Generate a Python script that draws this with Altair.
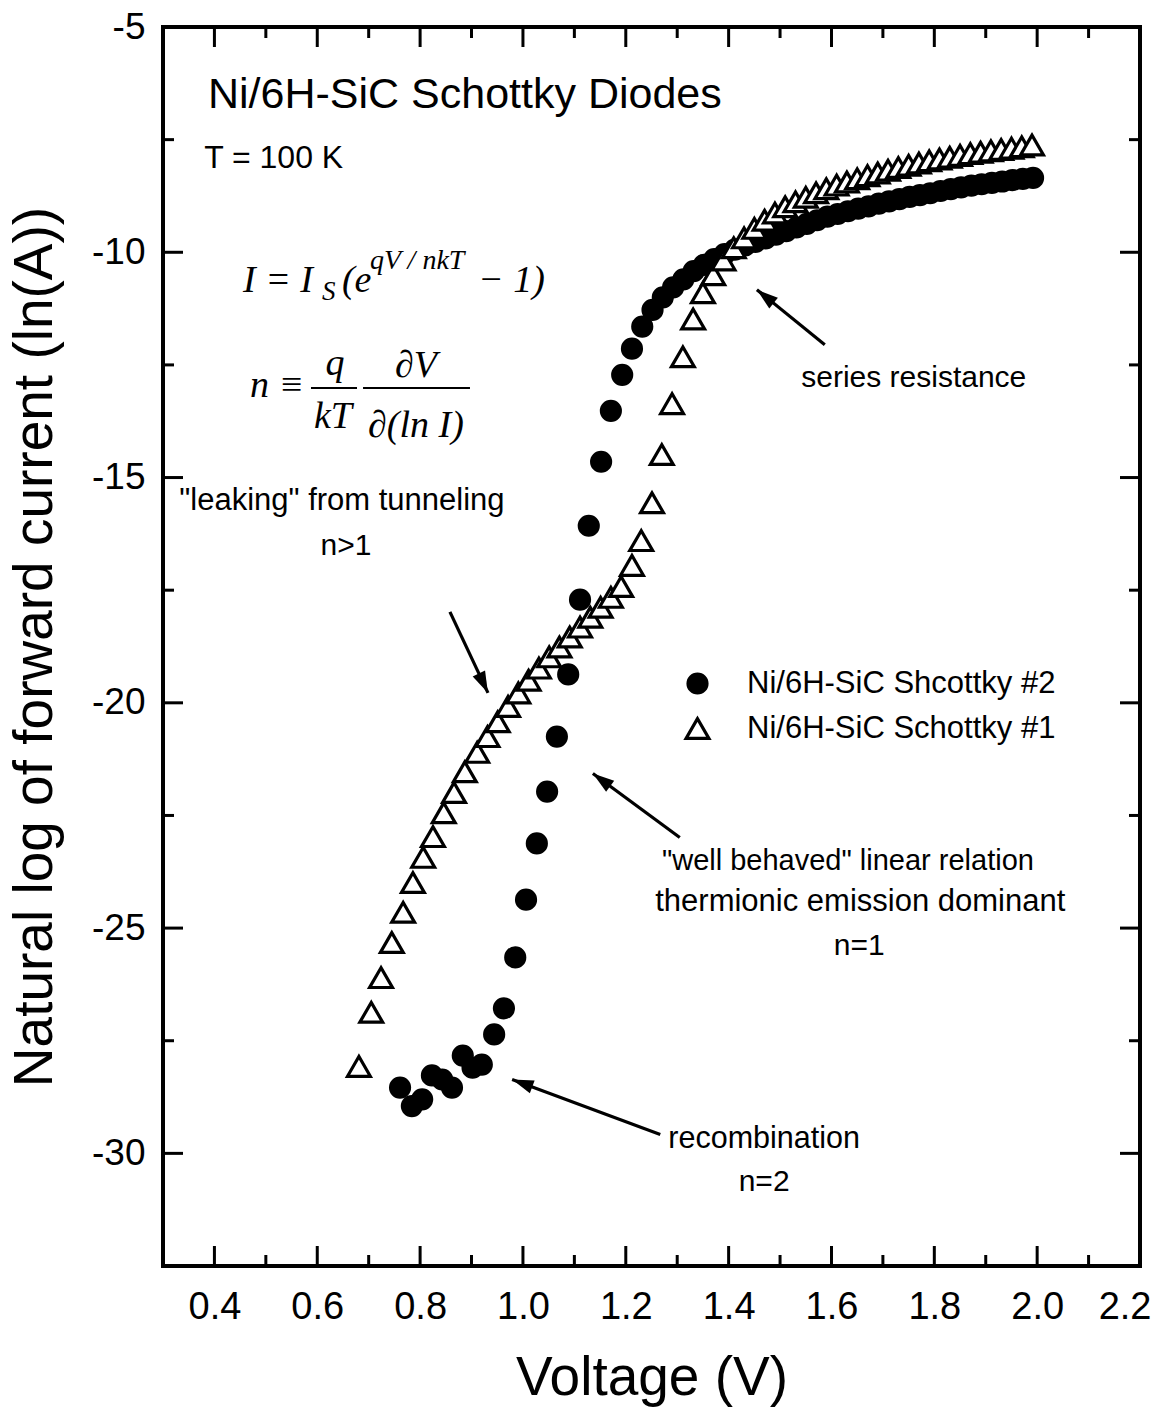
import math
import altair as alt
import pandas as pd

W, H = 977, 1239

# ---------------- data ----------------
name2 = "Ni/6H-SiC Shcottky #2"
name1 = "Ni/6H-SiC Schottky #1"

s2_v = [0.761, 0.784, 0.804, 0.823, 0.843, 0.862, 0.883, 0.902, 0.920, 0.944,
        0.963, 0.985, 1.006, 1.027, 1.047, 1.066, 1.088, 1.111, 1.128, 1.152,
        1.171, 1.193, 1.212, 1.232, 1.252, 1.272, 1.292, 1.312, 1.332, 1.352,
        1.372, 1.392, 1.412, 1.432, 1.452, 1.472, 1.492, 1.512, 1.532, 1.552,
        1.572, 1.592, 1.612, 1.632, 1.652, 1.672, 1.692, 1.712, 1.732, 1.752,
        1.772, 1.792, 1.812, 1.832, 1.852, 1.872, 1.892, 1.912, 1.932, 1.952,
        1.972, 1.992]
s2_y = [-28.54, -28.95, -28.80, -28.27, -28.36, -28.54, -27.83, -28.10, -28.03, -27.36,
        -26.78, -25.65, -24.37, -23.12, -21.97, -20.75, -19.37, -17.71, -16.07, -14.65,
        -13.52, -12.72, -12.14, -11.65, -11.28, -11.00, -10.78, -10.60, -10.42, -10.28,
        -10.15, -10.04, -9.94, -9.85, -9.77, -9.69, -9.61, -9.53, -9.45, -9.37,
        -9.29, -9.21, -9.15, -9.09, -9.03, -8.98, -8.92, -8.87, -8.82, -8.77,
        -8.73, -8.69, -8.64, -8.60, -8.56, -8.52, -8.49, -8.46, -8.43, -8.40,
        -8.37, -8.35]

s1_v = [0.681, 0.705, 0.724, 0.745, 0.767, 0.786, 0.806, 0.825, 0.846, 0.866,
        0.887, 0.911, 0.931, 0.951, 0.971, 0.991, 1.011, 1.031, 1.051, 1.071,
        1.091, 1.111, 1.131, 1.151, 1.171, 1.191, 1.212, 1.230, 1.251, 1.270,
        1.290, 1.311, 1.331, 1.350, 1.370, 1.390, 1.410, 1.430, 1.450, 1.470,
        1.490, 1.510, 1.530, 1.550, 1.570, 1.590, 1.610, 1.630, 1.650, 1.670,
        1.690, 1.710, 1.730, 1.750, 1.770, 1.790, 1.810, 1.830, 1.850, 1.870,
        1.890, 1.910, 1.930, 1.950, 1.970, 1.990]
s1_y = [-28.07, -26.87, -26.10, -25.32, -24.65, -23.99, -23.43, -22.97, -22.44, -21.99,
        -21.53, -21.10, -20.75, -20.42, -20.08, -19.78, -19.50, -19.23, -18.98, -18.76,
        -18.54, -18.32, -18.10, -17.88, -17.66, -17.42, -16.95, -16.40, -15.56, -14.49,
        -13.36, -12.32, -11.48, -10.90, -10.50, -10.17, -9.90, -9.68, -9.47, -9.29,
        -9.13, -8.99, -8.88, -8.78, -8.68, -8.59, -8.51, -8.44, -8.37, -8.30,
        -8.24, -8.18, -8.12, -8.07, -8.02, -7.97, -7.93, -7.89, -7.85, -7.81,
        -7.78, -7.75, -7.72, -7.69, -7.66, -7.62]

x_major = [0.4, 0.6, 0.8, 1.0, 1.2, 1.4, 1.6, 1.8, 2.0, 2.2]
x_minor = [0.5, 0.7, 0.9, 1.1, 1.3, 1.5, 1.7, 1.9, 2.1]
y_major = [-5, -10, -15, -20, -25, -30]
y_minor = [-7.5, -12.5, -17.5, -22.5, -27.5]

# annotation texts (data coordinates)
note_text = ['"leaking" from tunneling', "n>1", "series resistance",
             '"well behaved" linear relation', "thermionic emission dominant", "n=1",
             "recombination", "n=2"]
note_v = [0.648, 0.656, 1.760, 1.632, 1.656, 1.654, 1.469, 1.469]
note_y = [-15.71, -16.71, -12.99, -23.70, -24.63, -25.59, -29.87, -30.84]
note_fs = [31, 30, 30, 29, 31, 30, 30.5, 30]

head_text = ["Ni/6H-SiC Schottky Diodes", "T = 100 K"]
head_v = [0.3875, 0.380]
head_y = [-6.80, -8.13]
head_fs = [43, 32]

eq_big_text = ["I = I", "(e", "\u2212 1)", "n \u2261"]
eq_big_v = [0.4556, 0.648, 0.9126, 0.4692]
eq_big_y = [-10.88, -10.88, -10.88, -13.21]

eq_small_text = ["S", "qV / nkT"]
eq_small_v = [0.6092, 0.7026]
eq_small_y = [-11.06, -10.37]

eq_frac_text = ["q", "kT", "\u2202V", "\u2202(ln I)"]
eq_frac_v = [0.6345, 0.6306, 0.792, 0.792]
eq_frac_y = [-12.72, -13.90, -12.76, -14.10]

frac_v1 = [0.5878, 0.689]
frac_v2 = [0.6773, 0.897]
frac_y = [-13.01, -13.01]

# arrows: tail -> head
arr_tv = [1.587, 0.858, 1.305, 1.267]
arr_ty = [-12.05, -17.98, -22.99, -29.58]
arr_hv = [1.455, 0.932, 1.136, 0.979]
arr_hy = [-10.83, -19.78, -21.57, -28.36]

# ---------------- chart ----------------
XD = [0.3, 2.2]
YD = [-32.5, -5]
xs = alt.Scale(domain=XD, nice=False, zero=False)
ys = alt.Scale(domain=YD, nice=False, zero=False)
SANS = "Liberation Sans"
SERIF = "Liberation Serif"

df = pd.DataFrame({
    "V": s2_v + s1_v,
    "lnI": s2_y + s1_y,
    "series": [name2] * len(s2_v) + [name1] * len(s1_v),
})

leg = alt.Legend(
    orient="none", legendX=519, legendY=641, title=None, padding=0,
    labelFont=SANS, labelFontSize=31, labelColor="black", labelOffset=34,
    rowPadding=12, symbolStrokeWidth=3.2, labelLimit=600,
)
dom = [name2, name1]

x_axis = alt.Axis(
    values=x_major, format=".1f", ticks=False, domain=False, grid=False,
    labelFont=SANS, labelFontSize=38, labelColor="black", labelPadding=22,
    labelOverlap=False, labelFlush=True, labelFlushOffset=11,
    title="Voltage (V)", titleFont=SANS, titleFontSize=55,
    titleFontWeight="normal", titleColor="black", titleY=128,
    titleBaseline="alphabetic")
y_axis = alt.Axis(
    values=y_major, labelExpr="'' + datum.value", ticks=False, domain=False,
    grid=False, labelFont=SANS, labelFontSize=37, labelColor="black",
    labelPadding=18, labelOverlap=False, labelFlush=False,
    title="Natural log of forward current (ln(A))", titleFont=SANS,
    titleFontSize=55, titleFontWeight="normal", titleColor="black",
    titleX=-112, titleBaseline="alphabetic")

points = alt.Chart(df).mark_point(opacity=1, strokeWidth=3.2,
                                  strokeOpacity=1, fillOpacity=1).encode(
    x=alt.X("V:Q", scale=xs, axis=x_axis, title="Voltage (V)"),
    y=alt.Y("lnI:Q", scale=ys, axis=y_axis, title="Natural log of forward current (ln(A))"),
    shape=alt.Shape("series:N", scale=alt.Scale(domain=dom, range=["circle", "triangle-up"]), legend=leg),
    fill=alt.Fill("series:N", scale=alt.Scale(domain=dom, range=["black", "white"]), legend=leg),
    stroke=alt.Stroke("series:N", scale=alt.Scale(domain=dom, range=["black", "black"]), legend=leg),
    size=alt.Size("series:N", scale=alt.Scale(domain=dom, range=[360, 520]), legend=leg),
)

def xq(field="V"):
    return alt.X(f"{field}:Q", scale=xs, title="Voltage (V)")

def yq(field="lnI"):
    return alt.Y(f"{field}:Q", scale=ys, title="Natural log of forward current (ln(A))")

# tick marks (inward) on all four sides
def xticks(vals, length):
    d = pd.DataFrame({"V": vals})
    b = alt.Chart(d).mark_rule(color="black", strokeWidth=3).encode(
        x=xq(), y=alt.value(H), y2=alt.value(H - length))
    t = alt.Chart(d).mark_rule(color="black", strokeWidth=3).encode(
        x=xq(), y=alt.value(0), y2=alt.value(length))
    return [b, t]

def yticks(vals, length):
    d = pd.DataFrame({"lnI": vals})
    l = alt.Chart(d).mark_rule(color="black", strokeWidth=3).encode(
        y=yq(), x=alt.value(0), x2=alt.value(length))
    r = alt.Chart(d).mark_rule(color="black", strokeWidth=3).encode(
        y=yq(), x=alt.value(W), x2=alt.value(W - length))
    return [l, r]

ticks = xticks(x_major, 20) + xticks(x_minor, 11) + yticks(y_major, 20) + yticks(y_minor, 11)

def texts(tl, vl, yl, fs, align, font, style="normal"):
    d = pd.DataFrame({"V": vl, "lnI": yl, "t": tl, "fs": fs})
    return alt.Chart(d).mark_text(align=align, baseline="alphabetic",
                                  font=font, fontStyle=style, color="black").encode(
        x=xq(), y=yq(), text="t:N", size=alt.Size("fs:Q", scale=None, legend=None))

heads_txt = texts(head_text, head_v, head_y, head_fs, "left", SANS)
notes = texts(note_text, note_v, note_y, note_fs, "center", SANS)
eqb = texts(eq_big_text, eq_big_v, eq_big_y, [38] * 4, "left", SERIF, "italic")
eqs = texts(eq_small_text, eq_small_v, eq_small_y, [27, 28], "left", SERIF, "italic")
eqf = texts(eq_frac_text, eq_frac_v, eq_frac_y, [38] * 4, "center", SERIF, "italic")

frac = alt.Chart(pd.DataFrame({"V": frac_v1, "V2": frac_v2, "lnI": frac_y})).mark_rule(
    color="black", strokeWidth=2).encode(x=xq(), x2="V2:Q", y=yq())

kx = W / (XD[1] - XD[0])
ky = H / (YD[1] - YD[0])
ang = [math.degrees(math.atan2((hv - tv) * kx, (hy - ty) * ky)) % 360
       for tv, ty, hv, hy in zip(arr_tv, arr_ty, arr_hv, arr_hy)]
arr_df = pd.DataFrame({"V": arr_tv, "lnI": arr_ty, "V2": arr_hv, "lnI2": arr_hy,
                       "hv": arr_hv, "hy": arr_hy, "ang": ang})
shafts = alt.Chart(arr_df).mark_rule(color="black", strokeWidth=3.2).encode(
    x=xq(), y=yq(), x2="V2:Q", y2="lnI2:Q")
arrowheads = alt.Chart(arr_df).mark_point(
    shape="M0,0L-0.7,2.2L0.7,2.2Z", filled=True, color="black", opacity=1,
    size=380).encode(
    x=xq("hv"), y=yq("hy"),
    angle=alt.Angle("ang:Q", scale=None))

chart = alt.layer(
    points, *ticks, heads_txt, notes, eqb, eqs, eqf, frac, shafts, arrowheads
).properties(
    width=W, height=H,
    autosize=alt.AutoSizeParams(type="none"),
    padding={"left": 163, "top": 27, "right": 25, "bottom": 147},
    background="white",
).configure_view(stroke="black", strokeWidth=4)

chart.save("out.html", embed_options={"renderer": "svg", "actions": False})
